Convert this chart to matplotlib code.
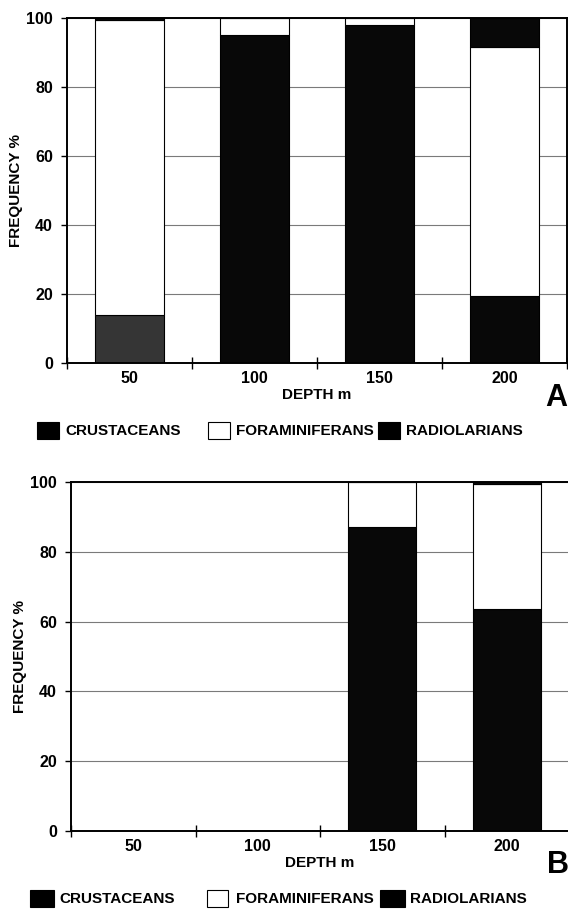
import matplotlib
matplotlib.use('Agg')
import matplotlib.pyplot as plt
from matplotlib.patches import Rectangle
import numpy as np

plt.rcParams['font.family'] = ['Liberation Sans', 'DejaVu Sans']

# ---- data ----
depths = ['50', '100', '150', '200']
series = ['CRUSTACEANS', 'FORAMINIFERANS', 'RADIOLARIANS']

a_crustaceans = [13.8, 95.2, 97.9, 19.3]
a_foraminiferans = [85.5, 4.8, 2.1, 72.2]
a_radiolarians = [0.7, 0.0, 0.0, 8.5]

b_crustaceans = [0.0, 0.0, 87.1, 63.6]
b_foraminiferans = [0.0, 0.0, 12.9, 35.9]
b_radiolarians = [0.0, 0.0, 0.0, 0.5]

W, H = 568, 910
fig = plt.figure(figsize=(W / 100, H / 100), dpi=100)


def axrect(l, t, r, b):
    return [l / W, 1 - b / H, (r - l) / W, (b - t) / H]


def draw(ax, data, colors, letter, letter_xy, leg_y, sq_x, txt_x):
    x = np.arange(len(depths))
    bottom = np.zeros(len(depths))
    for vals, col in zip(data, colors):
        vals = np.asarray(vals, dtype=float)
        ax.bar(x, vals, 0.55, bottom=bottom, color=col, edgecolor='black',
               linewidth=0.8, zorder=2)
        bottom += vals
    ax.set_xlim(-0.5, len(depths) - 0.5)
    ax.set_ylim(0, 100)
    ax.set_yticks(range(0, 101, 20))
    ax.yaxis.grid(True, color='#7a7a7a', linewidth=0.8)
    ax.set_axisbelow(True)
    ax.set_xticks(np.arange(-0.5, len(depths), 1.0))
    ax.set_xticklabels([])
    ax.set_xticks(x, minor=True)
    ax.set_xticklabels(depths, minor=True, fontsize=11.5, fontweight='bold')
    ax.tick_params(axis='x', which='major', direction='inout', length=8, width=1)
    ax.tick_params(axis='x', which='minor', length=0, pad=6)
    ax.tick_params(axis='y', length=4, width=1, pad=6, labelsize=11.5)
    for lab in ax.get_yticklabels():
        lab.set_fontweight('bold')
    for s in ax.spines.values():
        s.set_linewidth(1.4)
        s.set_color('black')
    ax.set_ylabel('FREQUENCY %', fontsize=11, fontweight='bold')
    ax.yaxis.set_label_coords(-0.088, 0.5)
    ax.set_xlabel('DEPTH m', fontsize=11, fontweight='bold')
    ax.xaxis.set_label_coords(0.5, -0.072)
    fig.text(letter_xy[0] / W, 1 - letter_xy[1] / H, letter, fontsize=22,
             fontweight='bold', ha='center', va='center')
    # legend
    leg_face = ['black', 'white', 'black']
    for name, fc, (x0, x1), tx in zip(series, leg_face, sq_x, txt_x):
        fig.add_artist(Rectangle((x0 / W, 1 - (leg_y + 8) / H), (x1 - x0) / W, 17 / H,
                                 transform=fig.transFigure, facecolor=fc,
                                 edgecolor='black', linewidth=0.8))
        fig.text(tx / W, 1 - leg_y / H, name, fontsize=11, fontweight='bold',
                 ha='left', va='center')


axA = fig.add_axes(axrect(67, 18, 567, 363))
draw(axA, [a_crustaceans, a_foraminiferans, a_radiolarians],
     [['#353535', '#080808', '#080808', '#080808'], 'white', '#080808'],
     'A', (556, 398), 431, [(37, 59), (208, 230), (378, 400)], [65, 236, 406])

axB = fig.add_axes(axrect(71, 482, 569, 831))
draw(axB, [b_crustaceans, b_foraminiferans, b_radiolarians],
     ['#080808', 'white', '#080808'],
     'B', (558, 865), 899, [(30, 54), (207, 228), (380, 405)], [59, 236, 410])

fig.savefig('out.png', dpi=100)
